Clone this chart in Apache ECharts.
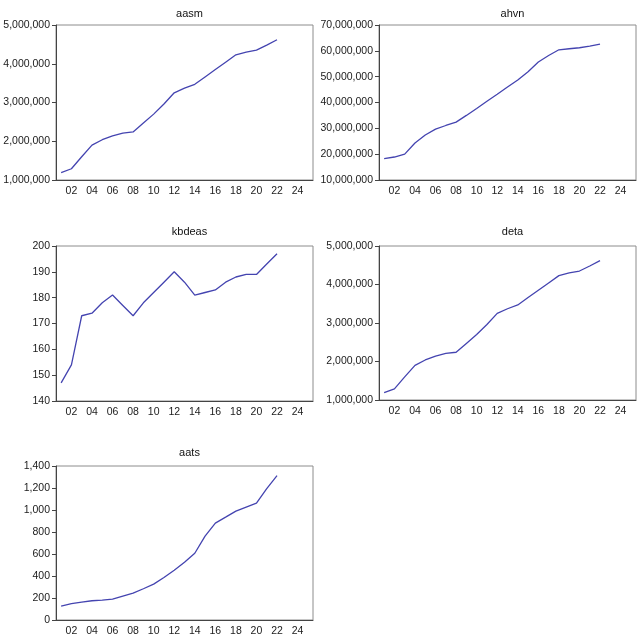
<!DOCTYPE html>
<html>
<head>
<meta charset="utf-8">
<script src="https://cdn.jsdelivr.net/npm/echarts@6/dist/echarts.min.js"></script>
<style>
html, body { margin: 0; padding: 0; background: #fff; }
#main { width: 640px; height: 637px; }
</style>
</head>
<body>
<div id="main"></div>
<script>
// 年份（横轴 2001-2025，数据到 2022）
var years = ['2001','2002','2003','2004','2005','2006','2007','2008','2009','2010',
             '2011','2012','2013','2014','2015','2016','2017','2018','2019','2020',
             '2021','2022','2023','2024','2025'];

var aasm = [1190000, 1290000, 1600000, 1900000, 2040000, 2140000, 2210000, 2240000, 2470000, 2700000,
            2960000, 3250000, 3370000, 3470000, 3660000, 3850000, 4040000, 4230000, 4300000, 4350000,
            4480000, 4620000];
var ahvn = [18300000, 18900000, 20000000, 24300000, 27400000, 29700000, 31100000, 32400000, 35000000, 37700000,
            40500000, 43200000, 46000000, 48700000, 51900000, 55700000, 58200000, 60400000, 60800000, 61200000,
            61800000, 62600000];
var kbdeas = [147, 154, 173, 174, 178, 181, 177, 173, 178, 182,
              186, 190, 186, 181, 182, 183, 186, 188, 189, 189,
              193, 197];
var deta = [1190000, 1290000, 1600000, 1900000, 2040000, 2140000, 2210000, 2240000, 2470000, 2700000,
            2960000, 3250000, 3370000, 3470000, 3660000, 3850000, 4040000, 4230000, 4300000, 4350000,
            4480000, 4620000];
var aats = [127, 148, 163, 175, 181, 190, 217, 244, 284, 326,
            386, 453, 525, 607, 763, 881, 935, 990, 1026, 1062,
            1195, 1313];

var names = ['aasm', 'ahvn', 'kbdeas', 'deta', 'aats'];
var seriesData = [aasm, ahvn, kbdeas, deta, aats];
var yMin = [1000000, 10000000, 140, 1000000, 0];
var yMax = [5000000, 70000000, 200, 5000000, 1400];
var yStep = [1000000, 10000000, 10, 1000000, 200];

// 各子图位置
var panels = [
    {left: 56, top: 25, width: 257, height: 155, titleTop: 3},
    {left: 379, top: 25, width: 257, height: 155, titleTop: 3},
    {left: 56, top: 246, width: 257, height: 155, titleTop: 221},
    {left: 379, top: 246, width: 257, height: 154, titleTop: 221},
    {left: 56, top: 466, width: 257, height: 154, titleTop: 442}
];

var font = 'Arial, "Liberation Sans", sans-serif';
var myChart = echarts.init(document.getElementById('main'));

var option = {
    backgroundColor: '#fff',
    animation: false,
    title: [],
    grid: [],
    xAxis: [],
    yAxis: [],
    series: []
};

for (var i = 0; i < panels.length; i++) {
    var p = panels[i];
    option.title.push({
        text: names[i],
        left: p.left + p.width / 2,
        top: p.titleTop,
        textAlign: 'center',
        textStyle: {
            color: '#111',
            fontSize: 11,
            fontWeight: 'normal',
            fontFamily: font
        }
    });
    option.grid.push({
        left: p.left,
        top: p.top,
        width: p.width,
        height: p.height,
        show: true,
        borderColor: '#8c8c8c',
        borderWidth: 1,
        containLabel: false
    });
    option.xAxis.push({
        type: 'category',
        gridIndex: i,
        data: years,
        boundaryGap: true,
        axisLine: {
            lineStyle: { color: '#444', width: 1 }
        },
        axisTick: {
            interval: 0,
            length: 4,
            lineStyle: { color: '#444' }
        },
        axisLabel: {
            color: '#1a1a1a',
            fontSize: 10.5,
            fontFamily: font,
            margin: 6,
            interval: function (index) { return index % 2 === 1; },
            formatter: function (v) { return v.slice(2); }
        },
        splitLine: { show: false }
    });
    option.yAxis.push({
        type: 'value',
        gridIndex: i,
        min: yMin[i],
        max: yMax[i],
        interval: yStep[i],
        axisLine: {
            show: true,
            lineStyle: { color: '#444', width: 1 }
        },
        axisTick: {
            show: true,
            length: 4,
            lineStyle: { color: '#444' }
        },
        axisLabel: {
            color: '#1a1a1a',
            fontSize: 10.5,
            fontFamily: font,
            margin: 6,
            formatter: function (v) { return v.toLocaleString('en-US'); }
        },
        splitLine: { show: false }
    });
    option.series.push({
        name: names[i],
        type: 'line',
        xAxisIndex: i,
        yAxisIndex: i,
        data: seriesData[i],
        symbol: 'none',
        lineStyle: { color: '#4444b0', width: 1.3 }
    });
}

myChart.setOption(option);
</script>
</body>
</html>
